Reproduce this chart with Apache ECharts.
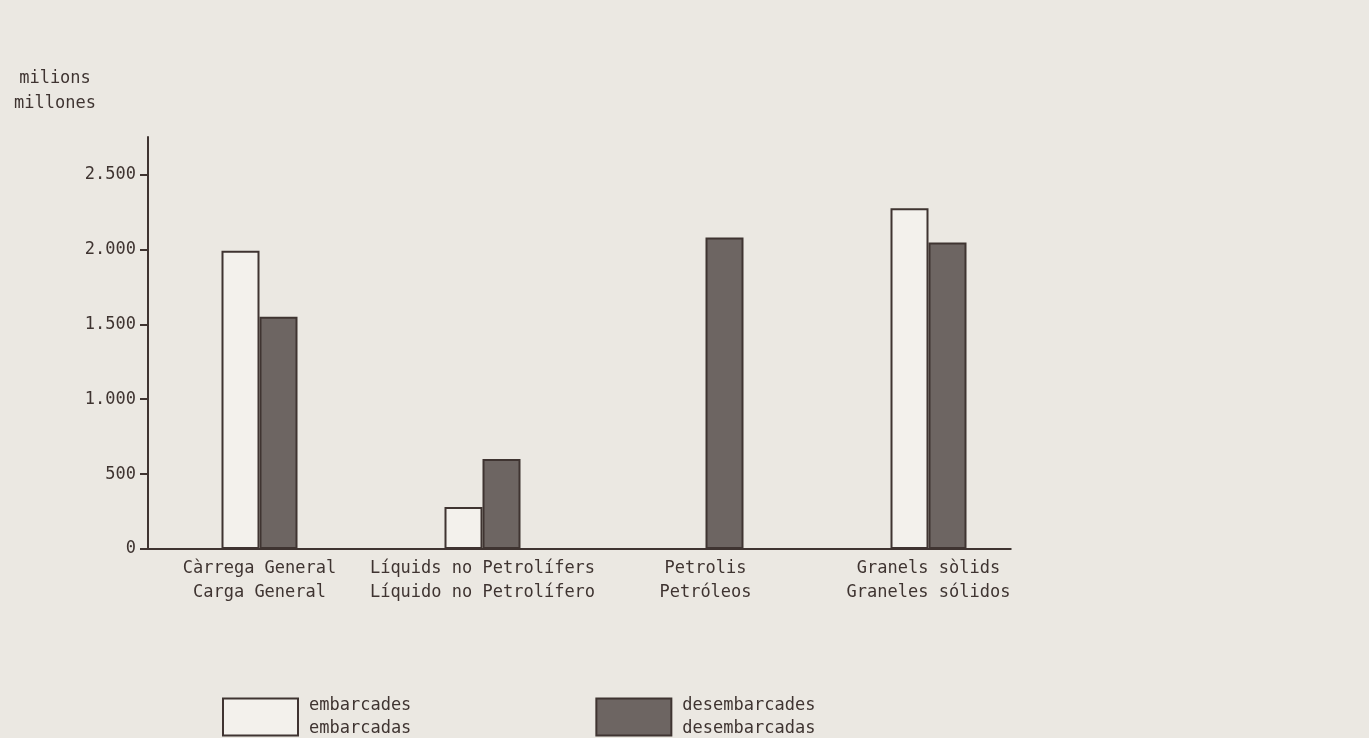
<!DOCTYPE html>
<html><head><meta charset="utf-8">
<script src="https://cdn.jsdelivr.net/npm/echarts@6/dist/echarts.min.js"></script>
<style>html,body{margin:0;padding:0;background:#ebe8e2;}#c{width:1369px;height:738px;}</style>
</head><body><div id="c"></div>
<script>
const catCa = ['Càrrega General', 'Líquids no Petrolífers', 'Petrolis', 'Granels sòlids'];
const catEs = ['Carga General', 'Líquido no Petrolífero', 'Petróleos', 'Graneles sólidos'];
const embarcades = [1990, 280, 0, 2275];
const desembarcades = [1550, 600, 2080, 2045];
const yTicks = [0, 500, 1000, 1500, 2000, 2500];
const seriesNames = ['embarcades\nembarcadas', 'desembarcades\ndesembarcadas'];
const unitLabel = 'milions\nmillones';

const ink = '#3f3431';
const font = "'DejaVu Sans Mono', 'Liberation Mono', monospace";
const cats = catCa.map((c, i) => c + '\n' + catEs[i]);
const fmt = v => v >= 1000 ? Math.floor(v / 1000) + '.' + String(v % 1000).padStart(3, '0') : String(v);

const chart = echarts.init(document.getElementById('c'), null, {renderer: 'canvas'});
chart.setOption({
  backgroundColor: '#ebe8e2',
  animation: false,
  grid: {left: 148, top: 137, right: 329, bottom: 189, containLabel: false},
  legend: {
    left: 222, top: 694, padding: 0, itemWidth: 75, itemHeight: 37, itemGap: 184, icon: 'rect',
    textStyle: {fontFamily: font, fontSize: 17, color: ink, lineHeight: 23, padding: [0, 0, 0, 6]},
    data: seriesNames
  },
  xAxis: {
    type: 'category', data: cats, boundaryGap: true,
    axisLine: {show: false},
    axisTick: {show: false},
    axisLabel: {fontFamily: font, fontSize: 17, color: ink, lineHeight: 24, margin: 8, interval: 0}
  },
  yAxis: {
    type: 'value', min: 0, max: 2750, interval: 500,
    splitLine: {show: false},
    axisLine: {show: true, lineStyle: {color: ink, width: 2}},
    axisTick: {show: true, length: 8, lineStyle: {color: ink, width: 2}, customValues: yTicks},
    axisLabel: {fontFamily: font, fontSize: 17, color: ink, margin: 12, customValues: yTicks, formatter: fmt}
  },
  series: [
    {name: seriesNames[0], type: 'bar', data: embarcades, barWidth: 38, barGap: '0%',
     itemStyle: {color: '#f3f1ec', borderColor: ink, borderWidth: 2}},
    {name: seriesNames[1], type: 'bar', data: desembarcades, barWidth: 38, barGap: '0%',
     itemStyle: {color: '#6d6562', borderColor: ink, borderWidth: 2}}
  ]
});

// base line (x axis) and unit label
const p0 = chart.convertToPixel({xAxisIndex: 0, yAxisIndex: 0}, [0, 0]);
const pLast = chart.convertToPixel({xAxisIndex: 0, yAxisIndex: 0}, [cats.length - 1, 0]);
const gridLeft = chart.getModel().getComponent('grid').coordinateSystem.getRect().x;
chart.setOption({
  graphic: [
    {type: 'line', shape: {x1: gridLeft, y1: p0[1], x2: pLast[0] + 83, y2: p0[1]},
     style: {stroke: ink, lineWidth: 2}, z: 10},
    {type: 'text', left: 10, top: 66,
     style: {text: unitLabel, font: '17px ' + font, fill: ink, textAlign: 'center', lineHeight: 25, width: 90, align: 'center'}}
  ]
});
</script>
</body></html>
